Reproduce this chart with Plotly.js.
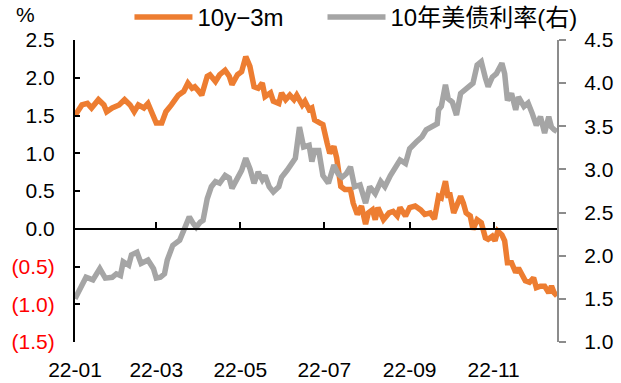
<!DOCTYPE html>
<html>
<head>
<meta charset="utf-8">
<script src="https://cdn.plot.ly/plotly-3.0.1.min.js"></script>
<style>
  html, body { margin: 0; padding: 0; background: #fff; }
  #chart { width: 621px; height: 383px; }
</style>
</head>
<body>
<div id="chart"></div>
<script>
// 10y-3m term spread (left axis, %)
const spreadDates = [
  '2022-01-01','2022-01-06','2022-01-10','2022-01-13','2022-01-18','2022-01-22','2022-01-24','2022-01-28',
  '2022-02-02','2022-02-06','2022-02-10','2022-02-13','2022-02-16','2022-02-20','2022-02-23','2022-02-27',
  '2022-03-01','2022-03-05','2022-03-08','2022-03-12','2022-03-17','2022-03-21','2022-03-24','2022-03-27',
  '2022-03-29','2022-03-31','2022-04-03','2022-04-07','2022-04-09','2022-04-13','2022-04-16','2022-04-20',
  '2022-04-23','2022-04-25','2022-04-29','2022-05-02','2022-05-05','2022-05-08','2022-05-11','2022-05-14',
  '2022-05-17','2022-05-19','2022-05-23','2022-05-25','2022-05-29','2022-05-31','2022-06-03','2022-06-06',
  '2022-06-09','2022-06-11','2022-06-15','2022-06-17','2022-06-20','2022-06-22','2022-06-24','2022-06-28',
  '2022-06-30','2022-07-03','2022-07-05','2022-07-08','2022-07-10','2022-07-13','2022-07-16','2022-07-20',
  '2022-07-22','2022-07-25','2022-07-28','2022-07-31','2022-08-02','2022-08-05','2022-08-07','2022-08-09',
  '2022-08-13','2022-08-17','2022-08-20','2022-08-23','2022-08-25','2022-08-29','2022-09-01','2022-09-05',
  '2022-09-09','2022-09-12','2022-09-16','2022-09-19','2022-09-22','2022-09-24','2022-09-27','2022-09-29',
  '2022-09-30','2022-10-03','2022-10-05','2022-10-08','2022-10-10','2022-10-12','2022-10-15','2022-10-17',
  '2022-10-20','2022-10-23','2022-10-26','2022-10-28','2022-10-31','2022-11-02','2022-11-04','2022-11-07',
  '2022-11-09','2022-11-11','2022-11-14','2022-11-17','2022-11-19','2022-11-21','2022-11-24','2022-11-27',
  '2022-11-30','2022-12-02','2022-12-05','2022-12-08','2022-12-11','2022-12-13','2022-12-15','2022-12-17'
];
const spreadValues = [
  1.50,1.64,1.66,1.60,1.71,1.64,1.55,1.60,
  1.64,1.71,1.64,1.55,1.64,1.60,1.66,1.49,
  1.40,1.40,1.55,1.64,1.77,1.82,1.93,1.86,
  1.88,1.84,1.77,2.02,2.04,1.95,2.04,2.10,
  2.02,1.91,2.04,2.08,2.28,2.15,1.88,1.86,
  1.93,1.75,1.80,1.69,1.66,1.80,1.71,1.77,
  1.71,1.77,1.64,1.69,1.58,1.60,1.44,1.40,
  1.38,1.14,1.00,1.09,0.94,0.56,0.52,0.52,
  0.34,0.19,0.30,0.06,0.21,0.25,0.12,0.28,
  0.12,0.21,0.23,0.17,0.28,0.17,0.28,0.30,
  0.25,0.19,0.21,0.13,0.43,0.41,0.63,0.41,
  0.48,0.21,0.30,0.43,0.34,0.21,0.17,-0.01,
  0.12,0.08,-0.12,-0.14,-0.10,-0.16,-0.03,-0.08,
  -0.16,-0.45,-0.45,-0.58,-0.52,-0.60,-0.69,-0.71,
  -0.65,-0.78,-0.76,-0.76,-0.85,-0.76,-0.85,-0.89
];

// 10-year US Treasury yield (right axis, %)
const yieldDates = [
  '2022-01-01','2022-01-05','2022-01-09','2022-01-14','2022-01-19','2022-01-23','2022-01-28','2022-01-31',
  '2022-02-03','2022-02-05','2022-02-09','2022-02-11','2022-02-15','2022-02-18','2022-02-23','2022-02-27',
  '2022-03-01','2022-03-04','2022-03-07','2022-03-09','2022-03-13','2022-03-18','2022-03-22','2022-03-25',
  '2022-03-28','2022-03-30','2022-04-02','2022-04-04','2022-04-07','2022-04-10','2022-04-13','2022-04-16',
  '2022-04-20','2022-04-23','2022-04-25','2022-04-29','2022-05-02','2022-05-05','2022-05-08','2022-05-11',
  '2022-05-14','2022-05-17','2022-05-19','2022-05-22','2022-05-25','2022-05-29','2022-05-31','2022-06-04',
  '2022-06-07','2022-06-10','2022-06-13','2022-06-16','2022-06-20','2022-06-22','2022-06-24','2022-06-27',
  '2022-06-30','2022-07-04','2022-07-08','2022-07-11','2022-07-14','2022-07-17','2022-07-20','2022-07-23',
  '2022-07-27','2022-07-31','2022-08-03','2022-08-07','2022-08-11','2022-08-14','2022-08-18','2022-08-21',
  '2022-08-25','2022-08-29','2022-09-01','2022-09-06','2022-09-10','2022-09-13','2022-09-17','2022-09-21',
  '2022-09-22','2022-09-24','2022-09-27','2022-09-29','2022-10-02','2022-10-05','2022-10-08','2022-10-11',
  '2022-10-15','2022-10-17','2022-10-20','2022-10-23','2022-10-26','2022-10-28','2022-10-31','2022-11-03',
  '2022-11-07','2022-11-09','2022-11-11','2022-11-14','2022-11-17','2022-11-19','2022-11-23','2022-11-26',
  '2022-11-29','2022-12-02','2022-12-05','2022-12-08','2022-12-11','2022-12-13','2022-12-15','2022-12-17'
];
const yieldValues = [
  1.50,1.64,1.75,1.72,1.85,1.74,1.75,1.79,
  1.77,1.93,1.89,2.01,2.04,1.91,1.95,1.85,
  1.74,1.75,1.79,1.95,2.12,2.18,2.35,2.45,
  2.37,2.33,2.39,2.41,2.66,2.80,2.86,2.84,
  2.93,2.90,2.78,2.91,2.99,3.13,3.01,2.84,
  2.97,2.88,2.93,2.80,2.74,2.80,2.91,2.99,
  3.05,3.13,3.49,3.26,3.28,3.09,3.22,3.22,
  2.93,2.84,3.05,2.95,2.91,2.95,3.03,2.80,
  2.82,2.61,2.80,2.72,2.86,2.80,2.93,3.01,
  3.11,3.07,3.24,3.32,3.38,3.46,3.49,3.53,
  3.69,3.73,3.98,3.82,3.78,3.63,3.88,3.92,
  3.98,4.00,4.21,4.25,4.06,3.96,4.07,4.11,
  4.23,4.11,3.80,3.88,3.69,3.84,3.73,3.77,
  3.65,3.51,3.61,3.42,3.61,3.49,3.46,3.44
];

// Axis ticks
const leftTickVals = [-1.5, -1.0, -0.5, 0.0, 0.5, 1.0, 1.5, 2.0, 2.5];
const leftTickText = ['(1.5)', '(1.0)', '(0.5)', '0.0', '0.5', '1.0', '1.5', '2.0', '2.5'];
const rightTickVals = [1.0, 1.5, 2.0, 2.5, 3.0, 3.5, 4.0, 4.5];
const monthTicks = ['2022-01-01', '2022-03-01', '2022-05-01', '2022-07-01', '2022-09-01', '2022-11-01'];

const seriesNames = ['10y\u22123m', '10年美债利率(右)'];
const ORANGE = '#ED7D31';
const GRAY = '#A5A5A5';
const FONT = 'Arial, "Liberation Sans", "Noto Sans CJK SC", sans-serif';
const TICK_SIZE = 21;
const LEGEND_SIZE = 24;

// negative values shown in red, accounting style
const leftTickLabels = leftTickText.map((t, i) =>
  leftTickVals[i] < 0 ? '<span style="color:#FF0000">' + t + '</span>' : t);

// yield line first so the spread is drawn on top of it
const traces = [
  {
    x: yieldDates, y: yieldValues, name: seriesNames[1], legend: 'legend2',
    type: 'scatter', mode: 'lines', xaxis: 'x', yaxis: 'y2',
    line: { color: GRAY, width: 5.5, shape: 'linear' }
  },
  {
    x: spreadDates, y: spreadValues, name: seriesNames[0], legend: 'legend',
    type: 'scatter', mode: 'lines', xaxis: 'x', yaxis: 'y',
    line: { color: ORANGE, width: 5.5, shape: 'linear' }
  }
];

const legendStyle = (x) => ({
  orientation: 'h', x: x, y: 1.075, xanchor: 'left', yanchor: 'middle',
  font: { family: FONT, size: LEGEND_SIZE, color: '#000' },
  itemwidth: 58, bgcolor: 'rgba(0,0,0,0)'
});

const layout = {
  width: 621, height: 383,
  margin: { l: 75, r: 64, t: 40, b: 41, pad: 0, autoexpand: false },
  paper_bgcolor: '#fff', plot_bgcolor: '#fff',
  font: { family: FONT, size: TICK_SIZE, color: '#000' },
  showlegend: true,
  legend: legendStyle(0.113),
  legend2: legendStyle(0.5135),
  xaxis: {
    type: 'date',
    range: ['2022-01-01', '2022-12-17'],
    anchor: 'free', position: 0.375,
    showline: true, linecolor: '#000', linewidth: 2,
    ticks: 'inside', ticklen: 6, tickwidth: 2, tickcolor: '#000',
    tickvals: monthTicks, tickformat: '%y-%m',
    ticklabelstandoff: 122,
    tickfont: { family: FONT, size: TICK_SIZE, color: '#000' },
    showgrid: false, zeroline: false
  },
  yaxis: {
    range: [-1.5, 2.5],
    tickvals: leftTickVals, ticktext: leftTickLabels,
    ticks: 'inside', ticklen: 5, tickwidth: 2, tickcolor: '#000',
    showline: true, linecolor: '#000', linewidth: 2,
    ticklabelstandoff: 14,
    tickfont: { family: FONT, size: TICK_SIZE, color: '#000' },
    showgrid: false, zeroline: false
  },
  yaxis2: {
    overlaying: 'y', side: 'right',
    range: [1.0, 4.5],
    tickvals: rightTickVals, tickformat: '.1f',
    ticks: 'outside', ticklen: 7, tickwidth: 2, tickcolor: '#8C8C8C',
    showline: true, linecolor: '#8C8C8C', linewidth: 2,
    ticklabelstandoff: 14,
    tickfont: { family: FONT, size: TICK_SIZE, color: '#000' },
    showgrid: false, zeroline: false
  },
  annotations: [
    {
      text: '%', xref: 'paper', yref: 'paper',
      x: -0.102, y: 1.083, xanchor: 'center', yanchor: 'middle',
      showarrow: false, font: { family: FONT, size: TICK_SIZE, color: '#000' }
    }
  ]
};

Plotly.newPlot('chart', traces, layout, { staticPlot: true, displayModeBar: false });
</script>
</body>
</html>
